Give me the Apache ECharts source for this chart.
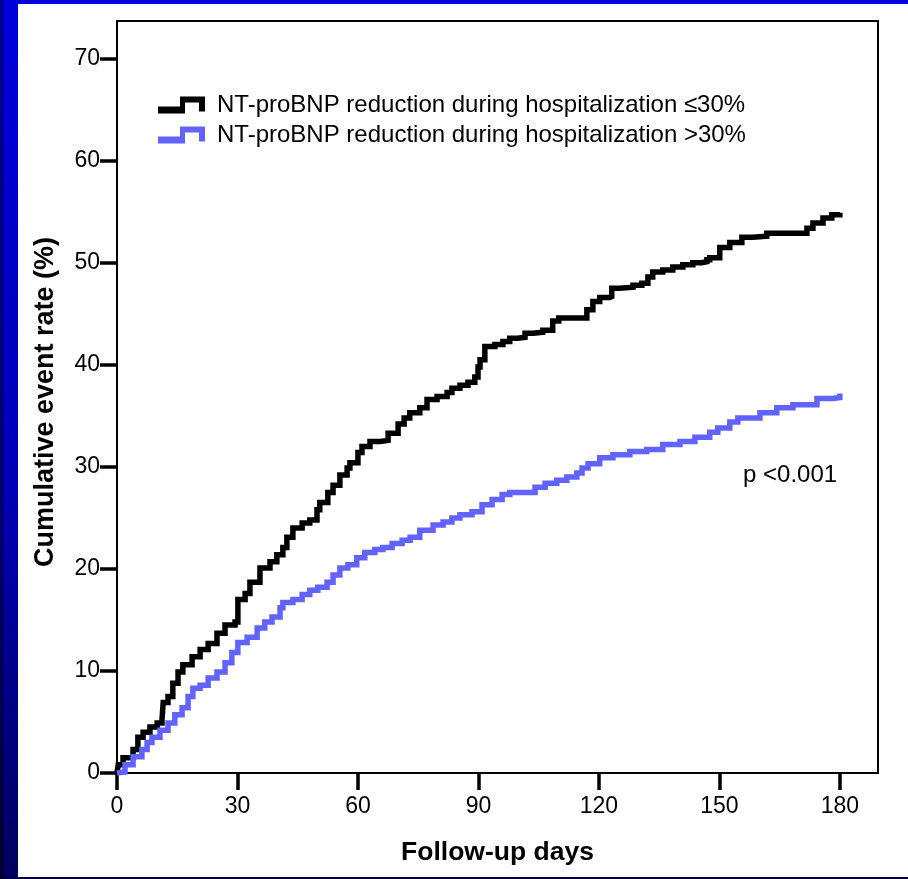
<!DOCTYPE html>
<html>
<head>
<meta charset="utf-8">
<script src="https://cdn.jsdelivr.net/npm/echarts@6/dist/echarts.min.js"></script>
<style>
  html, body { margin: 0; padding: 0; width: 908px; height: 879px; overflow: hidden; }
  #frame { position: absolute; left: 0; top: 0; width: 908px; height: 879px;
           background: linear-gradient(to bottom, #0000dc 0%, #0000b8 55%, #000060 100%); }
  #edge { position: absolute; left: 0; top: 0; width: 4px; height: 879px;
          background: linear-gradient(to bottom, #00009a 0%, #000070 60%, #000030 100%); }
  #foot { position: absolute; left: 0; top: 877px; width: 908px; height: 2px; background: #00003c; }
  #panel { position: absolute; left: 18px; top: 4px; width: 890px; height: 873px; background: #ffffff; }
  #chart { position: absolute; left: 0; top: 0; width: 908px; height: 879px; }
</style>
</head>
<body>
<div id="frame"></div>
<div id="edge"></div>
<div id="foot"></div>
<div id="panel"></div>
<div id="chart"></div>
<script>
// Kaplan-Meier style cumulative event curves: [day, cumulative event rate %]
const seriesNames = [
  'NT-proBNP reduction during hospitalization \u226430%',
  'NT-proBNP reduction during hospitalization >30%'
];

const lowReduction = [
  [0, 0], [0.3, 0.8], [1.5, 1.5], [4, 2.3], [5.2, 3.5], [6.5, 4.0], [8.2, 4.5], [10, 4.9],
  [11.2, 5.2], [11.5, 6.9], [12.7, 7.5], [13.9, 8.8], [15.2, 9.9], [16.4, 10.6], [18.7, 11.4],
  [20.7, 12.1], [22.7, 12.7], [24.9, 13.7], [26.9, 14.5], [29.4, 14.8], [30.1, 17.0],
  [31.9, 17.6], [33.1, 18.7], [35.6, 20.1], [38.1, 20.7], [39.8, 21.4], [41.3, 22.1],
  [42.3, 23.1], [43.8, 24.0], [46.1, 24.5], [48, 24.8], [49.8, 25.8], [50.5, 26.5],
  [52.5, 27.5], [53.8, 28.2], [55.5, 29.2], [57.3, 29.9], [58, 30.4], [60, 31.4], [61, 32.0],
  [63, 32.5], [65.5, 32.6], [67.5, 33.3], [70, 34.2], [71.5, 34.8], [72.9, 35.3], [75.4, 35.8],
  [77.2, 36.6], [79.7, 36.9], [82.2, 37.3], [83.4, 37.7], [85.4, 38.0], [87.4, 38.3],
  [89.1, 38.8], [89.9, 39.8], [90.4, 40.5], [91.6, 41.8], [94.1, 42.0], [96.1, 42.3],
  [97.8, 42.6], [99.8, 42.7], [101.6, 43.1], [103.6, 43.2], [106, 43.4], [108.5, 44.3],
  [110, 44.6], [117, 45.4], [118.5, 46.2], [120.2, 46.6], [122.7, 46.7], [123.2, 47.5],
  [125.2, 47.6], [128.5, 47.8], [130.7, 48.0], [132.2, 48.6], [133.4, 49.1], [135.9, 49.3],
  [138.4, 49.6], [140.9, 49.8], [143.4, 50.0], [145.6, 50.1], [146.9, 50.3], [147.6, 50.5],
  [150.1, 51.5], [152.6, 52.0], [155.6, 52.5], [158.3, 52.6], [161.8, 52.9], [170, 52.9],
  [171.8, 53.4], [173.3, 53.9], [175.8, 54.4], [178, 54.7], [180, 54.9]
];

const highReduction = [
  [0, 0], [0.3, 0.1], [2, 0.8], [4, 1.6], [6.2, 2.3], [7.5, 3.0], [8.7, 3.5], [10.7, 4.2],
  [12.7, 4.9], [14.4, 5.7], [16.2, 6.4], [17.7, 7.5], [18.9, 8.3], [20.7, 8.6], [22.7, 9.3],
  [24.9, 9.9], [26.9, 10.8], [28.6, 11.8], [30.1, 12.8], [32.4, 13.3], [34.9, 14.2],
  [36.8, 14.8], [38.6, 15.3], [40.6, 16.2], [41.3, 16.7], [43.8, 17.0], [46.1, 17.5],
  [48, 17.9], [50, 18.2], [52.3, 18.7], [53.8, 19.4], [55.5, 20.1], [57.5, 20.4],
  [59.7, 21.1], [61.7, 21.6], [64.2, 21.9], [66.2, 22.1], [68.5, 22.5], [71, 22.8],
  [73, 23.1], [75.4, 23.8], [78.7, 24.3], [81.2, 24.6], [83.4, 25.0], [85.4, 25.3],
  [88.4, 25.6], [90.9, 26.3], [93.4, 26.8], [95.9, 27.3], [97.8, 27.5], [104.1, 28.0],
  [106.6, 28.4], [109.5, 28.7], [112, 29.0], [114.5, 29.4], [115.8, 29.9], [117.3, 30.3],
  [120.2, 30.9], [123.5, 31.2], [127.7, 31.5], [131.9, 31.7], [135.9, 32.2], [140.2, 32.5],
  [143.9, 32.9], [147.6, 33.4], [149.6, 33.8], [152.6, 34.4], [154.6, 34.8], [160.1, 35.3],
  [164.3, 35.8], [168.3, 36.1], [174.3, 36.7], [178.3, 36.8], [180, 37.2]
];

const dayTicks = [0, 30, 60, 90, 120, 150, 180];
const rateTicks = [0, 10, 20, 30, 40, 50, 60, 70];
const pValueText = 'p <0.001';
const xTitle = 'Follow-up days';
const yTitle = 'Cumulative event rate (%)';

const FONT = '"Liberation Sans", Arial, Helvetica, sans-serif';
// stair-step legend glyph: low run, riser, high run, short drop
const stepIcon = 'path://M0 10 L22 10 L22 0 L47 0 L47 15 L41 15 L41 6 L27 6 L27 17 L0 17 Z';

const chart = echarts.init(document.getElementById('chart'), null, { renderer: 'canvas' });

chart.setOption({
  backgroundColor: 'transparent',
  animation: false,
  textStyle: { fontFamily: FONT },
  grid: {
    left: 117, top: 21, right: 30, bottom: 106,
    show: true, borderColor: '#000', borderWidth: 2, backgroundColor: 'transparent'
  },
  legend: {
    orient: 'vertical',
    left: 158, top: 93, padding: 0,
    itemWidth: 47, itemHeight: 17, itemGap: 6,
    icon: stepIcon,
    selectedMode: false,
    itemStyle: { borderWidth: 0 },
    textStyle: { fontFamily: FONT, fontSize: 24, color: '#000', padding: [6, 0, 0, 7] },
    data: seriesNames
  },
  xAxis: {
    type: 'value', min: 0, max: 189.5,
    name: xTitle, nameLocation: 'middle', nameGap: 66,
    nameTextStyle: { fontFamily: FONT, fontSize: 26.5, fontWeight: 'bold', color: '#000' },
    axisLine: { show: true, onZero: false, lineStyle: { color: '#000', width: 2 } },
    axisTick: { show: true, length: 17, customValues: dayTicks, lineStyle: { color: '#000', width: 3.5 } },
    axisLabel: { customValues: dayTicks, fontFamily: FONT, fontSize: 23, color: '#000', margin: 22 },
    splitLine: { show: false }
  },
  yAxis: {
    type: 'value', min: 0, max: 73.7,
    name: yTitle, nameLocation: 'middle', nameGap: 58,
    nameTextStyle: { fontFamily: FONT, fontSize: 27, fontWeight: 'bold', color: '#000', padding: [0, 10, 0, 0] },
    axisLine: { show: true, onZero: false, lineStyle: { color: '#000', width: 2 } },
    axisTick: { show: true, length: 17, customValues: rateTicks, lineStyle: { color: '#000', width: 3.5 } },
    axisLabel: { customValues: rateTicks, fontFamily: FONT, fontSize: 23, color: '#000', margin: 17 },
    splitLine: { show: false }
  },
  graphic: [{
    type: 'text', left: 743, top: 463,
    style: { text: pValueText, font: '24px ' + FONT, fill: '#000' }
  }],
  series: [
    {
      name: seriesNames[0], type: 'line', step: 'end', data: lowReduction,
      showSymbol: false, symbol: 'none',
      color: '#000000',
      lineStyle: { color: '#000000', width: 5.5, cap: 'butt', join: 'miter' }
    },
    {
      name: seriesNames[1], type: 'line', step: 'end', data: highReduction,
      showSymbol: false, symbol: 'none',
      color: '#6262ff',
      lineStyle: { color: '#6262ff', width: 5.5, cap: 'butt', join: 'miter' }
    }
  ]
});
</script>
</body>
</html>
